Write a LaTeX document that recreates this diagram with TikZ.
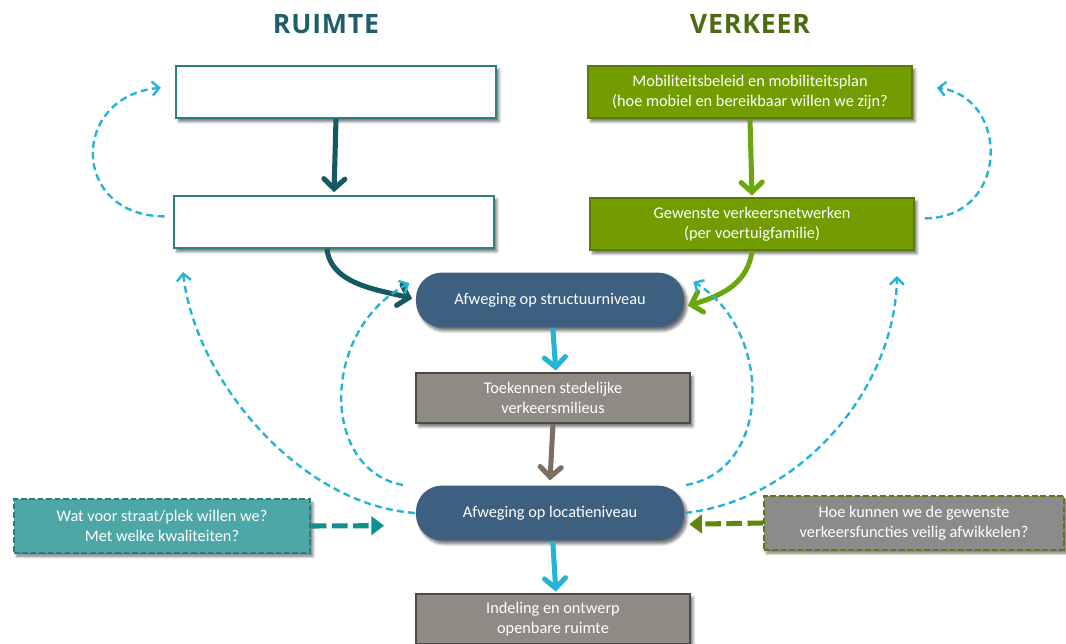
\documentclass[tikz,border=0pt]{standalone}
\usepackage{fontspec}
\setmainfont{Carlito}
\newfontfamily\kopfont[LetterSpace=3]{Open Sans}
\usetikzlibrary{arrows.meta,shadows.blur}

\definecolor{ruimtekop}{HTML}{1F5F6B}
\definecolor{ruimterand}{HTML}{2A7F7F}
\definecolor{ruimtepijl}{HTML}{155A63}
\definecolor{verkeerkop}{HTML}{4D6B12}
\definecolor{verkeervul}{HTML}{729C00}
\definecolor{verkeerrand}{HTML}{5A7A10}
\definecolor{verkeerpijl}{HTML}{6AA70A}
\definecolor{afwegingvul}{HTML}{3D6080}
\definecolor{stapvul}{HTML}{8E8A84}
\definecolor{staprand}{HTML}{4D4A45}
\definecolor{bruinpijl}{HTML}{7D6E62}
\definecolor{terugpijl}{HTML}{26B4D6}
\definecolor{vraagruimtevul}{HTML}{4CA7A6}
\definecolor{vraagruimtepijl}{HTML}{0E9090}
\definecolor{vraagverkeervul}{HTML}{8B8B8B}

\begin{document}
\begin{tikzpicture}[x=0.025cm, y=-0.025cm,
                    font=\fontsize{11.6}{14.5}\selectfont,
                    line width=1pt,
                    ]
    \tikzstyle{blok}=[rectangle, align=center, text=white, inner sep=2pt, line width=1.4pt,
        blur shadow={shadow xshift=2pt, shadow yshift=-2.5pt, shadow blur steps=6, shadow opacity=55}]
    \tikzstyle{ruimteblok}=[blok, fill=white, draw=ruimterand, minimum width=8cm, minimum height=1.3cm];
    \tikzstyle{verkeerblok}=[blok, fill=verkeervul, draw=verkeerrand, minimum width=8.1cm, minimum height=1.3cm];
    \tikzstyle{afweging}=[blok, fill=afwegingvul, rounded corners=0.65cm, minimum width=6.7cm, minimum height=1.37cm];
    \tikzstyle{stapblok}=[blok, fill=stapvul, draw=staprand, minimum width=6.85cm, minimum height=1.25cm];
    \tikzstyle{vraagruimte}=[blok, fill=vraagruimtevul, draw=ruimterand, dash pattern=on 4pt off 2pt, minimum width=7.4cm, minimum height=1.33cm];
    \tikzstyle{vraagverkeer}=[blok, fill=vraagverkeervul, draw=verkeerrand, dash pattern=on 4pt off 2pt, minimum width=7.5cm, minimum height=1.33cm];
    \tikzstyle{kop}=[font=\kopfont\bfseries\fontsize{19}{22}\selectfont];
    \tikzstyle{hoofdpijl}=[line width=3.6pt, -{Straight Barb[length=7pt,width=15pt,line cap=round]}];
    \tikzstyle{terug}=[terugpijl, line width=1.7pt, dash pattern=on 5pt off 3pt, -{Straight Barb[length=5pt,width=10pt]}];
    \tikzstyle{vraagpijl}=[line width=3.6pt, dash pattern=on 11pt off 4pt, -{Triangle[length=9pt,width=13pt]}];

    \useasboundingbox (0,0) rectangle (1066,644);

    % koppen
    \node[kop, text=ruimtekop] (kopR) at (326,24) {RUIMTE};
    \node[kop, text=verkeerkop] (kopV) at (750,24) {VERKEER};

    % blokken
    \node[ruimteblok] (R1) at (336,92) {};
    \node[ruimteblok] (R2) at (334,222) {};
    \node[verkeerblok] (V1) at (750,92) {Mobiliteitsbeleid en mobiliteitsplan\\(hoe mobiel en bereikbaar willen we zijn?};
    \node[verkeerblok] (V2) at (752,224) {Gewenste verkeersnetwerken\\(per voertuigfamilie)};
    \node[afweging] (struct) at (550,300) {Afweging op structuurniveau};
    \node[stapblok] (toek) at (553,398) {Toekennen stedelijke\\verkeersmilieus};
    \node[afweging] (loc) at (550,513) {Afweging op locatieniveau};
    \node[stapblok] (indeling) at (553,619) {Indeling en ontwerp\\openbare ruimte};
    \node[vraagruimte] (vraagR) at (162,526) {Wat voor straat/plek willen we?\\Met welke kwaliteiten?};
    \node[vraagverkeer] (vraagV) at (914,523) {Hoe kunnen we de gewenste\\verkeersfuncties veilig afwikkelen?};

    % hoofdstroom
    \path[draw, hoofdpijl, ruimtepijl] (R1.south) -- ([yshift=2pt]R2.north);
    \path[draw, hoofdpijl, verkeerpijl] (V1.south) -- ([yshift=1pt]V2.north);
    \path[draw, hoofdpijl, ruimtepijl] ([xshift=-5pt]R2.south) .. controls (331,285) and (380,290) .. ([xshift=-2pt,yshift=1pt]struct.west);
    \path[draw, hoofdpijl, verkeerpijl] (V2.south) .. controls (748,280) and (728,294) .. ([xshift=2pt,yshift=-4pt]struct.east);
    \path[draw, hoofdpijl, terugpijl] ([xshift=2pt]struct.south) -- ([xshift=2pt,yshift=1pt]toek.north);
    \path[draw, hoofdpijl, bruinpijl] (toek.south) -- ([yshift=3pt]loc.north);
    \path[draw, hoofdpijl, terugpijl] ([xshift=2pt]loc.south) -- ([xshift=2pt,yshift=1pt]indeling.north);

    % vragen
    \path[draw, vraagpijl, vraagruimtepijl] (vraagR.east) -- ([xshift=-22pt,yshift=-9pt]loc.west);
    \path[draw, vraagpijl, verkeerrand!70!verkeerpijl] (vraagV.west) -- ([xshift=3pt,yshift=-8pt]loc.east);

    % terugkoppelingen
    \path[draw, terug] ([xshift=-6pt,yshift=4pt]R2.west) .. controls (70,216) and (70,96) .. ([xshift=-10pt,yshift=3pt]R1.west);
    \path[draw, terug] ([xshift=7pt,yshift=4pt]V2.east) .. controls (1010,218) and (1010,97) .. ([xshift=17pt,yshift=3pt]V1.east);
    \path[draw, terug] (loc.west) .. controls (300,505) and (195,380) .. (183,272);
    \path[draw, terug] (loc.east) .. controls (800,500) and (895,390) .. (897,276);
    \path[draw, terug] (403,485) .. controls (320,470) and (320,330) .. ([xshift=-4pt,yshift=12pt]struct.west);
    \path[draw, terug] (686,485) .. controls (773,470) and (773,330) .. ([xshift=6pt,yshift=13pt]struct.east);
\end{tikzpicture}
\end{document}
